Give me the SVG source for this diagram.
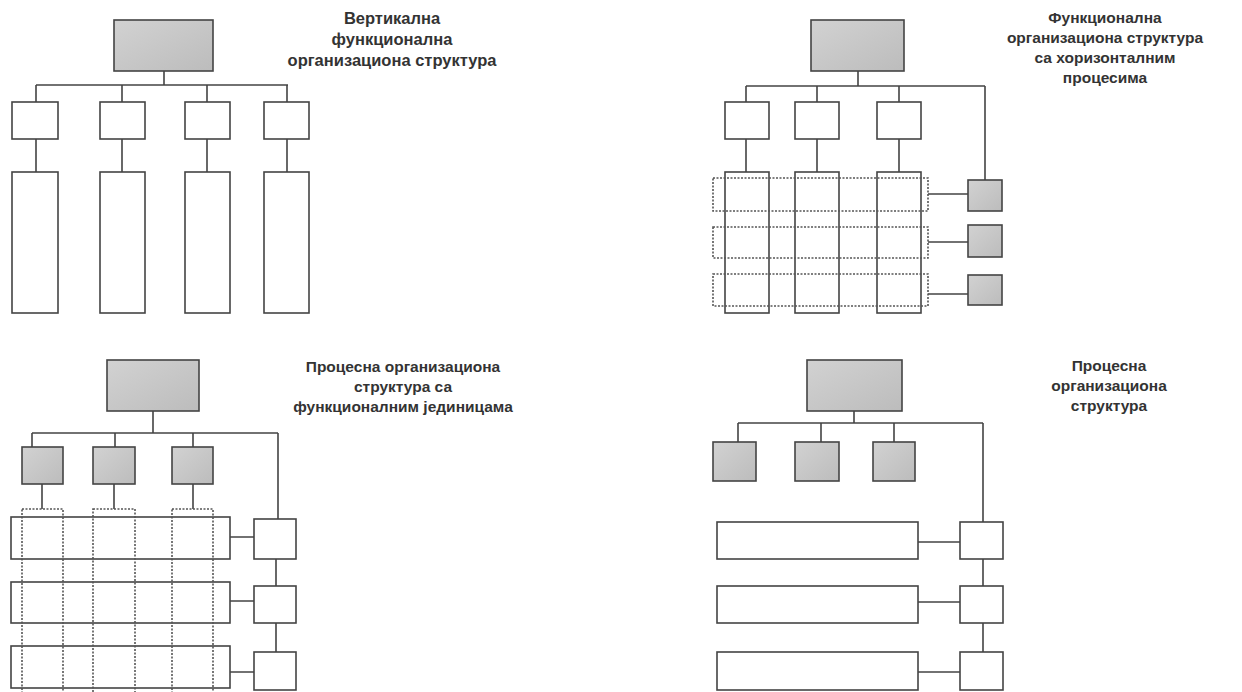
<svg xmlns="http://www.w3.org/2000/svg" width="1242" height="692" viewBox="0 0 1242 692">
<defs>
<linearGradient id="g" x1="0" y1="0" x2="1" y2="1">
<stop offset="0" stop-color="#d2d2d2"/>
<stop offset="1" stop-color="#bcbcbc"/>
</linearGradient>
<style>
.b{fill:#fff;stroke:#444;stroke-width:1.6}
.gr{fill:url(#g);stroke:#444;stroke-width:1.6}
.d{fill:none;stroke:#555;stroke-width:1.6;stroke-dasharray:2 1.5}
.c{fill:none;stroke:#444;stroke-width:1.6}
.t{font-family:"Liberation Sans",Arial,sans-serif;font-weight:bold;font-size:15.5px;fill:#333;text-anchor:middle}
.t1{font-size:16.5px}
</style>
</defs>
<rect width="1242" height="692" fill="#fff"/>

<!-- Quadrant 1 -->
<g id="q1-connectors">
<path class="c" d="M164 71V85M36 85H288M36 85V102M122 85V102M207 85V102M287 85V102M36 139V172M122 139V172M207 139V172M287 139V172"/>
</g>
<g id="q1-top"><rect class="gr" x="114" y="20" width="99" height="51"/></g>
<g id="q1-f1"><rect class="b" x="12" y="102" width="46" height="37"/><rect class="b" x="12" y="172" width="46" height="141"/></g>
<g id="q1-f2"><rect class="b" x="100" y="102" width="45" height="37"/><rect class="b" x="100" y="172" width="45" height="141"/></g>
<g id="q1-f3"><rect class="b" x="185" y="102" width="45" height="37"/><rect class="b" x="185" y="172" width="45" height="141"/></g>
<g id="q1-f4"><rect class="b" x="264" y="102" width="45" height="37"/><rect class="b" x="264" y="172" width="45" height="141"/></g>
<g id="q1-title"><text class="t t1" x="392" y="24">Вертикална</text><text class="t t1" x="392" y="45">функционална</text><text class="t t1" x="392" y="66">организациона структура</text></g>

<!-- Quadrant 2 -->
<g id="q2-connectors">
<path class="c" d="M858 71V86M746 86H985M746 86V102M817 86V102M899 86V102M985 86V180M746 139V172M817 139V172M899 139V172M928 194H968M928 242H968M928 294H968"/>
</g>
<g id="q2-top"><rect class="gr" x="811" y="20" width="93" height="51"/></g>
<g id="q2-f1"><rect class="b" x="725" y="102" width="44" height="37"/><rect class="b" x="725" y="172" width="44" height="141"/></g>
<g id="q2-f2"><rect class="b" x="795" y="102" width="44" height="37"/><rect class="b" x="795" y="172" width="44" height="141"/></g>
<g id="q2-f3"><rect class="b" x="877" y="102" width="44" height="37"/><rect class="b" x="877" y="172" width="44" height="141"/></g>
<g id="q2-p1"><rect class="d" x="713" y="178" width="215" height="33"/><rect class="gr" x="968" y="180" width="34" height="31"/></g>
<g id="q2-p2"><rect class="d" x="713" y="227" width="215" height="31"/><rect class="gr" x="968" y="225" width="34" height="32"/></g>
<g id="q2-p3"><rect class="d" x="713" y="274" width="215" height="32"/><rect class="gr" x="968" y="275" width="34" height="30"/></g>
<g id="q2-title"><text class="t" x="1105" y="23">Функционална</text><text class="t" x="1105" y="43">организациона структура</text><text class="t" x="1105" y="63">са хоризонталним</text><text class="t" x="1105" y="83">процесима</text></g>

<!-- Quadrant 3 -->
<g id="q3-connectors">
<path class="c" d="M153 411V433M32 433H278M32 433V447M115 433V447M193 433V447M278 433V519M42 484V509M114 484V509M193 484V509M230 537H254M230 601H254M230 672H254M276 559V586M276 623V652"/>
</g>
<g id="q3-top"><rect class="gr" x="107" y="360" width="92" height="51"/></g>
<g id="q3-u1"><rect class="gr" x="22" y="447" width="41" height="37"/></g>
<g id="q3-u2"><rect class="gr" x="93" y="447" width="42" height="37"/></g>
<g id="q3-u3"><rect class="gr" x="172" y="447" width="41" height="37"/></g>
<g id="q3-p1"><rect class="b" x="11" y="517" width="219" height="42"/><rect class="b" x="254" y="519" width="42" height="40"/></g>
<g id="q3-p2"><rect class="b" x="11" y="582" width="219" height="41"/><rect class="b" x="254" y="586" width="42" height="37"/></g>
<g id="q3-p3"><rect class="b" x="11" y="646" width="219" height="42"/><rect class="b" x="254" y="652" width="42" height="38"/></g>
<g id="q3-cols"><rect class="d" x="22" y="509" width="41" height="200"/><rect class="d" x="93" y="509" width="42" height="200"/><rect class="d" x="172" y="509" width="41" height="200"/></g>
<g id="q3-title"><text class="t" x="403" y="372">Процесна организациона</text><text class="t" x="403" y="392">структура са</text><text class="t" x="403" y="412">функционалним јединицама</text></g>

<!-- Quadrant 4 -->
<g id="q4-connectors">
<path class="c" d="M854 411V423M738 423H983M738 423V442M821 423V442M894 423V442M983 423V522M918 542H960M918 602H960M918 672H960M983 559V586M983 623V652"/>
</g>
<g id="q4-top"><rect class="gr" x="807" y="360" width="95" height="51"/></g>
<g id="q4-u1"><rect class="gr" x="713" y="442" width="43" height="39"/></g>
<g id="q4-u2"><rect class="gr" x="795" y="442" width="44" height="39"/></g>
<g id="q4-u3"><rect class="gr" x="873" y="442" width="42" height="39"/></g>
<g id="q4-p1"><rect class="b" x="717" y="522" width="201" height="37"/><rect class="b" x="960" y="522" width="43" height="37"/></g>
<g id="q4-p2"><rect class="b" x="717" y="586" width="201" height="37"/><rect class="b" x="960" y="586" width="43" height="37"/></g>
<g id="q4-p3"><rect class="b" x="717" y="652" width="201" height="38"/><rect class="b" x="960" y="652" width="43" height="38"/></g>
<g id="q4-title"><text class="t" x="1109" y="371">Процесна</text><text class="t" x="1109" y="391">организациона</text><text class="t" x="1109" y="411">структура</text></g>
</svg>
